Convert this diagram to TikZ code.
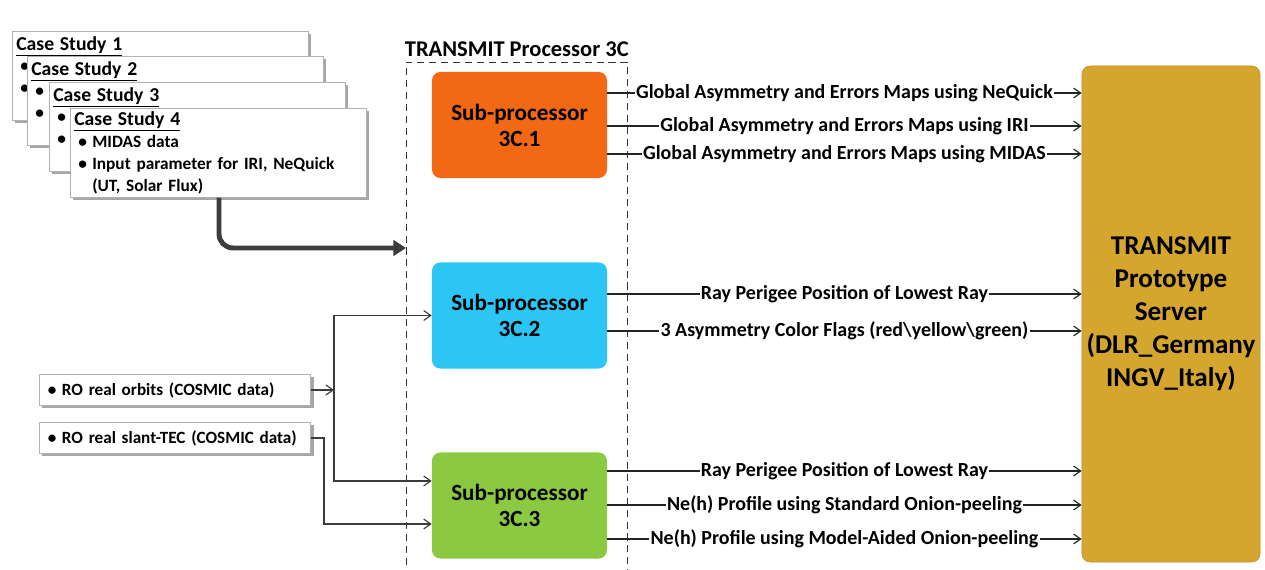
\documentclass[tikz,border=0pt]{standalone}
\usepackage{fontspec}
\setmainfont{Carlito}
\usepackage{tikz}
\usetikzlibrary{positioning,shadows,arrows.meta}
\definecolor{c_sub1}{RGB}{242,104,20}
\definecolor{c_sub2}{RGB}{44,198,244}
\definecolor{c_sub3}{RGB}{140,201,66}
\definecolor{c_server}{RGB}{212,166,46}
\definecolor{c_line}{RGB}{60,60,60}
\newcommand{\csitem}{\makebox[0.45cm][l]{\hspace{0.1cm}\textbullet}}
\newcommand{\cstitle}[1]{{\fontsize{14}{16}\selectfont\underline{#1}}}
\tikzset{case-box/.style={rectangle, anchor=north west, minimum width=7.4cm, minimum height=2.225cm, text width=7.2cm, align=left, inner sep=2pt, draw=gray!60, fill=white, font=\fontsize{12.3}{15.5}\selectfont\bfseries, drop shadow={shadow xshift=2pt, shadow yshift=-2pt, fill=gray!70, opacity=1}},
in-box/.style={rectangle, minimum width=6.75cm, minimum height=0.775cm, text width=6.55cm, align=left, draw=gray!60, fill=white, font=\fontsize{12.2}{14}\selectfont\bfseries, drop shadow={shadow xshift=2pt, shadow yshift=-2pt, fill=gray!70, opacity=1}},
c-subproc/.style={rectangle, rounded corners=6pt, minimum width=4.375cm, minimum height=2.65cm, align=center, font=\fontsize{16.5}{18.5}\selectfont\bfseries},
outarrow/.style={thick, c_line!60!black, -{Straight Barb[length=5pt,width=7pt]}},
inarrow/.style={thick, c_line, -{Straight Barb[length=5pt,width=7pt]}},
outlabel/.style={midway, fill=white, inner sep=1pt, text=black, font=\fontsize{14.2}{16}\selectfont\bfseries}}

\begin{document}
\begin{tikzpicture}[x=0.025cm, y=-0.025cm]
\useasboundingbox (0,0) rectangle (1265,570);
% case studies (only the front one shows its items)
\node (case1) [case-box] at (12,31) {\cstitle{Case Study 1}\\
\csitem\\
\csitem\\
\mbox{}};
\node (case2) [case-box] at (27,56) {\cstitle{Case Study 2}\\
\csitem\\
\csitem\\
\mbox{}};
\node (case3) [case-box] at (49,82) {\cstitle{Case Study 3}\\
\csitem\\
\csitem\\
\mbox{}};
\node (case4) [case-box] at (70,108) {\cstitle{Case Study 4}\\
\csitem MIDAS data\\
\csitem Input parameter for IRI, NeQuick\\
\hspace*{0.45cm}(UT, Solar Flux)};

% processor 3C
\node (proc) [draw=gray!40!black, dash pattern=on 5pt off 3.5pt, anchor=north west, minimum width=5.525cm, minimum height=13cm] at (406,62) {};
\node (proctitle) [above=0pt of proc, font=\fontsize{16}{18}\selectfont\bfseries] {TRANSMIT Processor 3C};
\node (sub1) [c-subproc, fill=c_sub1] at (519.5,125) {Sub-processor\\3C.1};
\node (sub2) [c-subproc, fill=c_sub2] at (519.5,315.5) {Sub-processor\\3C.2};
\node (sub3) [c-subproc, fill=c_sub3] at (519.5,505.5) {Sub-processor\\3C.3};

% server
\node (server) [rectangle, rounded corners=6pt, minimum width=4.3cm, minimum height=12.4cm, fill=c_server, draw=c_server!85!black, align=center, font=\fontsize{19.3}{23.5}\selectfont\bfseries] at (1171,314) {TRANSMIT\\Prototype\\Server\\(DLR\_Germany\\INGV\_Italy)};

% RO inputs
\node (orbits) [in-box] at (175,390) {\csitem RO real orbits (COSMIC data)};
\node (slant) [in-box] at (175,438) {\csitem RO real slant-TEC (COSMIC data)};

% case study feed
\draw [line width=3.5pt, c_line, rounded corners=10pt, -{Triangle[length=9pt,width=11pt]}] (case4.south -| 219,0) |- (proc.west |- 0,248);

% inputs to sub-processors
\draw [inarrow] (orbits.east) -- ++(23,0) coordinate (split);
\draw [inarrow] (split) |- (sub2.west);
\draw [inarrow] (split) |- (sub3.west |- 0,481);
\draw [inarrow] (slant.east) -- ++(13,0) |- (sub3.west |- 0,524);

% outputs to server
\draw [outarrow] (sub1.east |- 0,93) -- node[outlabel] {Global Asymmetry and Errors Maps using NeQuick} (server.west |- 0,93);
\draw [outarrow] (sub1.east |- 0,126) -- node[outlabel] {Global Asymmetry and Errors Maps using IRI} (server.west |- 0,126);
\draw [outarrow] (sub1.east |- 0,154) -- node[outlabel] {Global Asymmetry and Errors Maps using MIDAS} (server.west |- 0,154);
\draw [outarrow] (sub2.east |- 0,294) -- node[outlabel] {Ray Perigee Position of Lowest Ray} (server.west |- 0,294);
\draw [outarrow] (sub2.east |- 0,331) -- node[outlabel] {3 Asymmetry Color Flags (red\textbackslash yellow\textbackslash green)} (server.west |- 0,331);
\draw [outarrow] (sub3.east |- 0,471) -- node[outlabel] {Ray Perigee Position of Lowest Ray} (server.west |- 0,471);
\draw [outarrow] (sub3.east |- 0,505) -- node[outlabel] {Ne(h) Profile using Standard Onion-peeling} (server.west |- 0,505);
\draw [outarrow] (sub3.east |- 0,539) -- node[outlabel] {Ne(h) Profile using Model-Aided Onion-peeling} (server.west |- 0,539);
\end{tikzpicture}
\end{document}
